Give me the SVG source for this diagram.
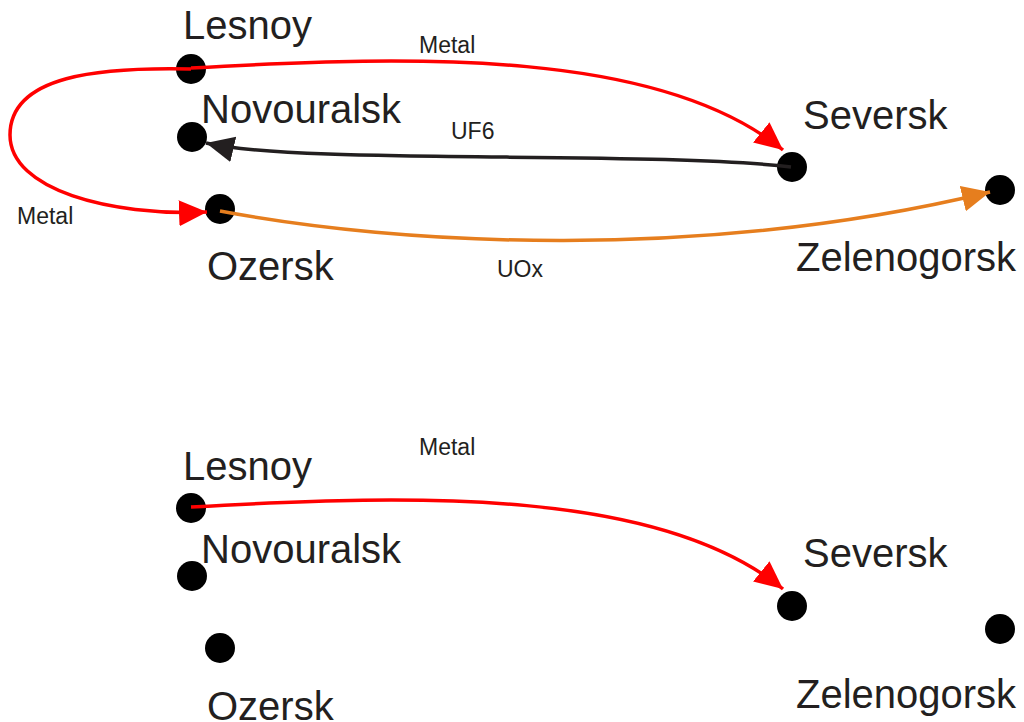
<svg xmlns="http://www.w3.org/2000/svg" width="1024" height="722" viewBox="0 0 1024 722">
<style>
.node text{font-family:"Liberation Sans",Arial,sans-serif;font-size:40px;fill:#231F20}
.dot{fill:#000}
.lbl{font-family:"Liberation Sans",Arial,sans-serif;font-size:23px;fill:#231F20}
.red{fill:none;stroke:#FF0000;stroke-width:3.5}
.blk{fill:none;stroke:#231F20;stroke-width:3.5}
.org{fill:none;stroke:#E67E1E;stroke-width:3.5}
</style>
<defs>
<marker id="aRed" markerUnits="userSpaceOnUse" markerWidth="30" markerHeight="28" refX="28" refY="13" orient="auto"><path d="M0,0 L28,13 L0,26 z" fill="#FF0000"/></marker>
<marker id="aBlk" markerUnits="userSpaceOnUse" markerWidth="30" markerHeight="28" refX="28" refY="13" orient="auto"><path d="M0,0 L28,13 L0,26 z" fill="#231F20"/></marker>
<marker id="aOrg" markerUnits="userSpaceOnUse" markerWidth="30" markerHeight="28" refX="28" refY="13" orient="auto"><path d="M0,0 L28,13 L0,26 z" fill="#E67E1E"/></marker>
</defs>
<rect width="1024" height="722" fill="#fff"/>

<!-- top diagram nodes -->
<g id="lesnoy1" class="node"><circle class="dot" cx="191" cy="69" r="15"/><text x="183" y="39">Lesnoy</text></g>
<g id="novouralsk1" class="node"><circle class="dot" cx="192" cy="137" r="15"/><text x="201" y="123">Novouralsk</text></g>
<g id="ozersk1" class="node"><circle class="dot" cx="220" cy="209" r="15"/><text x="207" y="280">Ozersk</text></g>
<g id="seversk1" class="node"><circle class="dot" cx="792" cy="167" r="15"/><text x="803" y="129">Seversk</text></g>
<g id="zelenogorsk1" class="node"><circle class="dot" cx="1000" cy="190" r="15"/><text x="796" y="271">Zelenogorsk</text></g>

<!-- bottom diagram nodes -->
<g id="lesnoy2" class="node"><circle class="dot" cx="191" cy="508" r="15"/><text x="183" y="480">Lesnoy</text></g>
<g id="novouralsk2" class="node"><circle class="dot" cx="192" cy="576" r="15"/><text x="201" y="563">Novouralsk</text></g>
<g id="ozersk2" class="node"><circle class="dot" cx="220" cy="648" r="15"/><text x="207" y="720">Ozersk</text></g>
<g id="seversk2" class="node"><circle class="dot" cx="792" cy="606" r="15"/><text x="803" y="567">Seversk</text></g>
<g id="zelenogorsk2" class="node"><circle class="dot" cx="1000" cy="629" r="15"/><text x="796" y="708">Zelenogorsk</text></g>

<g id="connectors">
<path class="red" d="M191,68 C420,55 660,50 783,150" marker-end="url(#aRed)"/>
<path class="red" d="M191,69 C100,67 10,75 10,135 C10,190 110,216 207,212" marker-end="url(#aRed)"/>
<path class="blk" d="M791,167 C650,150 300,165 206,143" marker-end="url(#aBlk)"/>
<path class="org" d="M220,211 C400,245 700,262 990,192" marker-end="url(#aOrg)"/>
<path class="red" d="M191,507 C420,494 660,489 783,589" marker-end="url(#aRed)"/>
<text class="lbl" x="419" y="53">Metal</text>
<text class="lbl" x="17" y="224">Metal</text>
<text class="lbl" x="451" y="139">UF6</text>
<text class="lbl" x="497" y="277">UOx</text>
<text class="lbl" x="419" y="455">Metal</text>
</g>
</svg>
